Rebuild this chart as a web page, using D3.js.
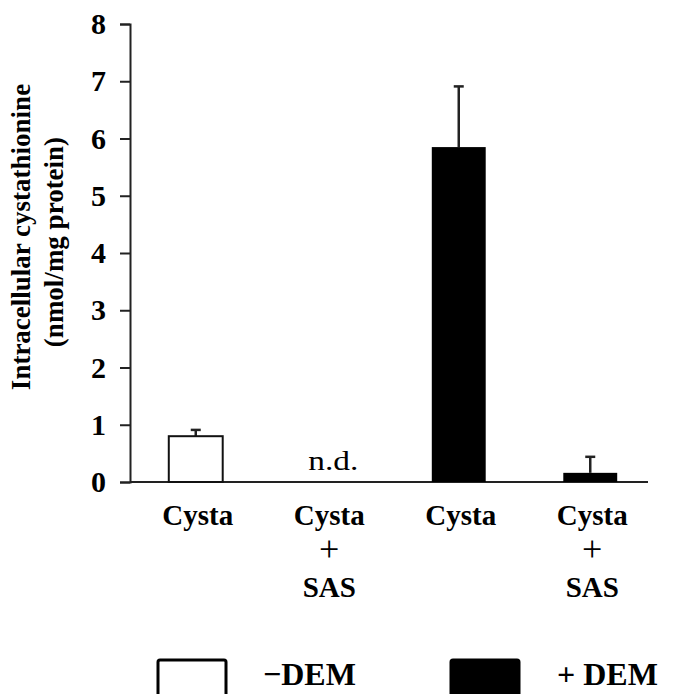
<!DOCTYPE html>
<html>
<head>
<meta charset="utf-8">
<script src="https://cdn.jsdelivr.net/npm/d3@7"></script>
<style>
  body { margin: 0; background: #fff; }
  text { font-family: "Liberation Serif", "Times New Roman", serif; fill: #000; }
</style>
</head>
<body>
<svg width="681" height="694"></svg>
<script>
// data
var groups = ["g1", "g2", "g3", "g4"];
var groupLabels = [["Cysta"], ["Cysta", "+", "SAS"], ["Cysta"], ["Cysta", "+", "SAS"]];
var values = [0.80, null, 5.85, 0.16];   // null = not detected
var errors = [0.11, null, 1.06, 0.28];
var withDEM = [false, false, true, true];
var yTicks = [0, 1, 2, 3, 4, 5, 6, 7, 8];
var legendLabels = ["\u2212DEM", "+ DEM"];
var ndLabel = "n.d.";

var svg = d3.select("svg"),
    width = +svg.attr("width"),
    height = +svg.attr("height");

var margin = {top: 24, left: 130, bottom: 482, right: 648};

var x = d3.scaleBand()
    .domain(groups)
    .range([margin.left, 656])
    .paddingInner(0.59)
    .paddingOuter(0.295);

var y = d3.scaleLinear()
    .domain([0, 8])
    .range([margin.bottom, margin.top]);

var data = groups.map(function(g, i) {
    return {id: g, lines: groupLabels[i], value: values[i], err: errors[i], dem: withDEM[i]};
});

// y axis
var yAxis = svg.append("g")
    .attr("transform", "translate(" + margin.left + ",0)")
    .call(d3.axisLeft(y).tickValues(yTicks).tickSize(10).tickSizeOuter(10).tickPadding(14).tickFormat(d3.format("d")));
yAxis.select(".domain").attr("stroke", "#222").attr("stroke-width", 2);
yAxis.selectAll(".tick line").attr("stroke", "#222").attr("stroke-width", 2);
yAxis.selectAll(".tick text")
    .attr("font-size", 30)
    .attr("font-weight", "bold")
    .attr("font-family", "Liberation Serif")
    .attr("fill", "#000");

// x axis line
svg.append("line")
    .attr("x1", margin.left)
    .attr("x2", margin.right)
    .attr("y1", y(0))
    .attr("y2", y(0))
    .attr("stroke", "#222")
    .attr("stroke-width", 2);

// y title
svg.append("text")
    .attr("transform", "translate(30," + 237 + ") rotate(-90)")
    .attr("text-anchor", "middle")
    .attr("font-weight", "bold")
    .attr("font-size", 27)
    .text("Intracellular cystathionine");
svg.append("text")
    .attr("transform", "translate(63," + 242 + ") rotate(-90)")
    .attr("text-anchor", "middle")
    .attr("font-weight", "bold")
    .attr("font-size", 27)
    .text("(nmol/mg protein)");

// bars
var measured = data.filter(function(d) { return d.value != null; });

svg.selectAll(".err")
    .data(measured)
    .enter().append("line")
    .attr("class", "err")
    .attr("x1", function(d) { return x(d.id) + x.bandwidth() / 2; })
    .attr("x2", function(d) { return x(d.id) + x.bandwidth() / 2; })
    .attr("y1", function(d) { return y(d.value); })
    .attr("y2", function(d) { return y(d.value + d.err); })
    .attr("stroke", "#222")
    .attr("stroke-width", 2.5);

svg.selectAll(".cap")
    .data(measured)
    .enter().append("line")
    .attr("class", "cap")
    .attr("x1", function(d) { return x(d.id) + x.bandwidth() / 2 - 5; })
    .attr("x2", function(d) { return x(d.id) + x.bandwidth() / 2 + 5; })
    .attr("y1", function(d) { return y(d.value + d.err); })
    .attr("y2", function(d) { return y(d.value + d.err); })
    .attr("stroke", "#222")
    .attr("stroke-width", 2.5);

svg.selectAll(".bar")
    .data(measured)
    .enter().append("rect")
    .attr("class", "bar")
    .attr("x", function(d) { return x(d.id); })
    .attr("width", x.bandwidth())
    .attr("y", function(d) { return y(d.value); })
    .attr("height", function(d) { return y(0) - y(d.value); })
    .attr("fill", function(d) { return d.dem ? "#000" : "#fff"; })
    .attr("stroke", "#111")
    .attr("stroke-width", function(d) { return d.dem ? 0 : 2; });

// n.d. marker
svg.selectAll(".nd")
    .data(data.filter(function(d) { return d.value == null; }))
    .enter().append("text")
    .attr("class", "nd")
    .attr("x", function(d) { return x(d.id) + x.bandwidth() / 2 + 6; })
    .attr("y", 470)
    .attr("text-anchor", "middle")
    .attr("font-size", 28)
    .attr("textLength", 50)
    .attr("lengthAdjust", "spacingAndGlyphs")
    .text(ndLabel);

// category labels
var lab = svg.selectAll(".xlab")
    .data(data)
    .enter().append("text")
    .attr("class", "xlab")
    .attr("text-anchor", "middle")
    .attr("font-size", 29);

lab.selectAll("tspan")
    .data(function(d) { return d.lines.map(function(l) { return {id: d.id, t: l}; }); })
    .enter().append("tspan")
    .attr("x", function(d) { return x(d.id) + x.bandwidth() / 2 + 2; })
    .attr("y", function(d, i) { return 525 + i * 36; })
    .attr("font-weight", function(d) { return d.t == "+" ? "normal" : "bold"; })
    .attr("font-size", function(d) { return d.t == "+" ? 36 : 29; })
    .text(function(d) { return d.t; });

// legend
var legend = svg.selectAll(".legend")
    .data(legendLabels)
    .enter().append("g")
    .attr("class", "legend")
    .attr("transform", function(d, i) { return "translate(" + (158 + i * 293) + ",660)"; });

legend.append("rect")
    .attr("width", 68)
    .attr("height", 50)
    .attr("rx", 2)
    .attr("fill", function(d, i) { return i ? "#000" : "#fff"; })
    .attr("stroke", "#000")
    .attr("stroke-width", 3);

legend.append("text")
    .attr("x", function(d, i) { return i ? 106 : 105; })
    .attr("y", 25)
    .attr("font-size", 32)
    .attr("font-weight", "bold")
    .text(function(d) { return d; });
</script>
</body>
</html>
